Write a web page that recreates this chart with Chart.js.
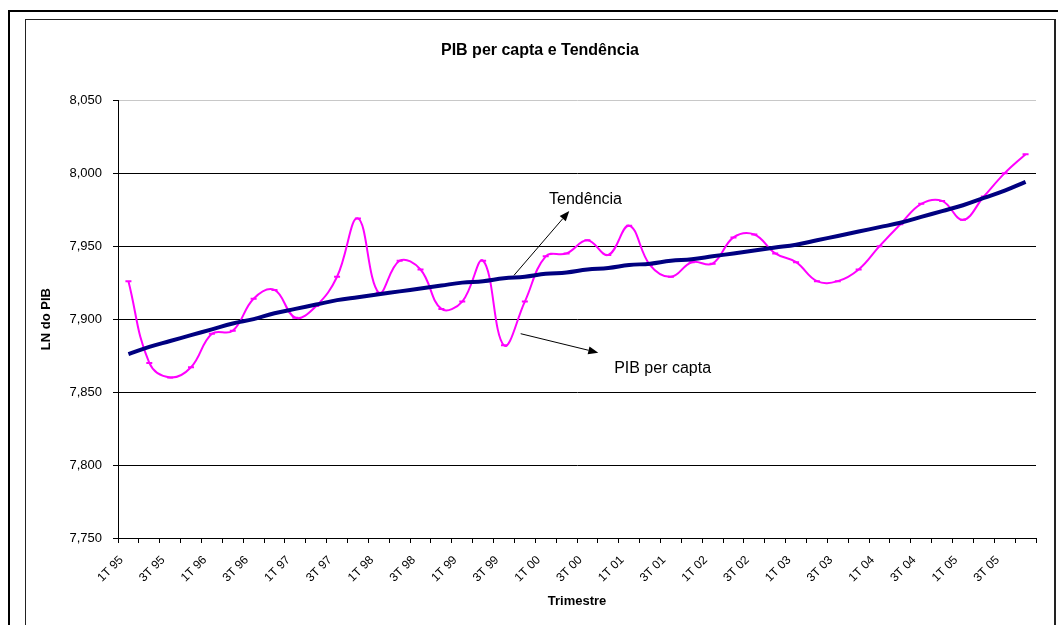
<!DOCTYPE html>
<html>
<head>
<meta charset="utf-8">
<title>PIB per capta e Tendência</title>
<script src="https://cdn.jsdelivr.net/npm/chart.js"></script>
<style>
  html, body { margin: 0; padding: 0; background: #fff; }
  canvas { display: block; }
</style>
</head>
<body>
<canvas id="pibChart" width="1058" height="625"></canvas>
<script>
// ============================================
// Dados (LN do PIB per capta, trimestral)
// ============================================

const trimestres = [
    '1T 95', '2T 95', '3T 95', '4T 95',
    '1T 96', '2T 96', '3T 96', '4T 96',
    '1T 97', '2T 97', '3T 97', '4T 97',
    '1T 98', '2T 98', '3T 98', '4T 98',
    '1T 99', '2T 99', '3T 99', '4T 99',
    '1T 00', '2T 00', '3T 00', '4T 00',
    '1T 01', '2T 01', '3T 01', '4T 01',
    '1T 02', '2T 02', '3T 02', '4T 02',
    '1T 03', '2T 03', '3T 03', '4T 03',
    '1T 04', '2T 04', '3T 04', '4T 04',
    '1T 05', '2T 05', '3T 05', '4T 05'
];

const pibPerCapta = [
    7.926, 7.870, 7.860, 7.867,
    7.890, 7.892, 7.914, 7.920,
    7.901, 7.909, 7.929, 7.969,
    7.918, 7.940, 7.934, 7.907,
    7.912, 7.940, 7.882, 7.912,
    7.943, 7.945, 7.954, 7.944,
    7.964, 7.937, 7.929, 7.939,
    7.938, 7.956, 7.958, 7.945,
    7.939, 7.926, 7.926, 7.934,
    7.950, 7.965, 7.979, 7.981,
    7.968, 7.984, 8.000, 8.013
];

const tendencia = [
    7.876, 7.881, 7.885, 7.889,
    7.893, 7.897, 7.900, 7.904,
    7.907, 7.910, 7.913, 7.915,
    7.917, 7.919, 7.921, 7.923,
    7.925, 7.926, 7.928, 7.929,
    7.931, 7.932, 7.934, 7.935,
    7.937, 7.938, 7.940, 7.941,
    7.943, 7.945, 7.947, 7.949,
    7.951, 7.954, 7.957, 7.960,
    7.963, 7.966, 7.970, 7.974,
    7.978, 7.983, 7.988, 7.994
];

// eixo Y
const yMin = 7.75;
const yMax = 8.05;
const yStep = 0.05;

// anotações: texto + seta, em coordenadas dos dados (índice do trimestre, valor)
const notas = [
    { texto: 'Tendência',     x: 20.16, y: 7.979, de: [18.48, 7.930], para: [21.13, 7.974] },
    { texto: 'PIB per capta', x: 23.28, y: 7.863, de: [18.80, 7.890], para: [22.52, 7.877] }
];

const FONTE = '"Liberation Sans", Arial, sans-serif';

// moldura da área do gráfico (estilo Excel)
const molduraPlugin = {
    id: 'moldura',
    beforeDraw(chart) {
        const ctx = chart.ctx;
        ctx.save();
        ctx.fillStyle = '#fff';
        ctx.fillRect(0, 0, chart.width, chart.height);
        ctx.strokeStyle = '#000';
        ctx.lineWidth = 2;
        ctx.strokeRect(9, 11, chart.width + 20, chart.height + 20);
        ctx.lineWidth = 1;
        ctx.strokeStyle = '#222';
        ctx.strokeRect(25.5, 19.5, 1029, chart.height + 20);
        ctx.lineWidth = 2;
        ctx.beginPath();
        ctx.moveTo(1055, 19);
        ctx.lineTo(1055, chart.height);
        ctx.stroke();
        ctx.restore();
    }
};

// setas e textos
const notasPlugin = {
    id: 'notas',
    afterDatasetsDraw(chart) {
        const ctx = chart.ctx;
        const sx = chart.scales.x;
        const sy = chart.scales.y;
        ctx.save();
        ctx.fillStyle = '#000';
        ctx.strokeStyle = '#000';
        ctx.lineWidth = 1;
        ctx.font = '16px ' + FONTE;
        ctx.textAlign = 'left';
        ctx.textBaseline = 'alphabetic';
        notas.forEach(n => {
            ctx.fillText(n.texto, sx.getPixelForValue(n.x), sy.getPixelForValue(n.y));

            const x1 = sx.getPixelForValue(n.de[0]);
            const y1 = sy.getPixelForValue(n.de[1]);
            const x2 = sx.getPixelForValue(n.para[0]);
            const y2 = sy.getPixelForValue(n.para[1]);
            const ang = Math.atan2(y2 - y1, x2 - x1);
            const len = 10;
            const larg = 4;
            const bx = x2 - len * Math.cos(ang);
            const by = y2 - len * Math.sin(ang);

            ctx.beginPath();
            ctx.moveTo(x1, y1);
            ctx.lineTo(bx, by);
            ctx.stroke();

            ctx.beginPath();
            ctx.moveTo(x2, y2);
            ctx.lineTo(bx + larg * Math.sin(ang), by - larg * Math.cos(ang));
            ctx.lineTo(bx - larg * Math.sin(ang), by + larg * Math.cos(ang));
            ctx.closePath();
            ctx.fill();
        });
        ctx.restore();
    }
};

const ctx = document.getElementById('pibChart');

new Chart(ctx, {
    type: 'line',
    data: {
        labels: trimestres,
        datasets: [
            {
                label: 'Tendência',
                data: tendencia,
                borderColor: '#000080',
                borderWidth: 4,
                pointRadius: 0,
                tension: 0.4,
                order: 0
            },
            {
                label: 'PIB per capta',
                data: pibPerCapta,
                borderColor: '#FF00FF',
                borderWidth: 2,
                pointStyle: 'line',
                pointRadius: 3,
                pointBorderWidth: 2,
                pointBorderColor: '#FF00FF',
                pointBackgroundColor: '#FF00FF',
                tension: 0.4,
                order: 1
            }
        ]
    },
    options: {
        responsive: false,
        animation: false,
        devicePixelRatio: 1,
        layout: {
            // left 44 so the title centres inside the frame
            padding: { left: 44, right: 22, top: 20, bottom: 0 }
        },
        plugins: {
            legend: { display: false },
            tooltip: { enabled: false },
            title: {
                display: true,
                text: 'PIB per capta e Tendência',
                color: '#000',
                font: { family: FONTE, size: 16, weight: 'bold' },
                padding: { top: 21, bottom: 40 }
            }
        },
        scales: {
            x: {
                offset: true,
                grid: {
                    offset: true,
                    drawOnChartArea: false,
                    drawTicks: true,
                    tickLength: 5,
                    color: '#000'
                },
                border: { color: '#000', width: 1 },
                ticks: {
                    autoSkip: false,
                    maxRotation: 45,
                    minRotation: 45,
                    padding: 10,
                    labelOffset: -7,
                    color: '#000',
                    font: { family: FONTE, size: 12 },
                    callback: function (v, i) {
                        return i % 2 === 0 ? this.getLabelForValue(v) : '';
                    }
                },
                title: {
                    display: true,
                    text: 'Trimestre',
                    color: '#000',
                    font: { family: FONTE, size: 13, weight: 'bold' },
                    padding: { top: 0, bottom: 16 }
                },
                afterFit(scale) { scale.height = 87; }
            },
            y: {
                min: yMin,
                max: yMax,
                grid: {
                    color: c => (c.tick && c.tick.value >= yMax - 1e-9 ? '#c8c8c8' : '#000'),
                    tickColor: '#000',
                    tickLength: 5,
                    lineWidth: 1
                },
                border: { color: '#000', width: 1 },
                ticks: {
                    stepSize: yStep,
                    padding: 11,
                    color: '#000',
                    font: { family: FONTE, size: 13 },
                    callback: v => v.toFixed(3).replace('.', ',')
                },
                title: {
                    display: true,
                    text: 'LN do PIB',
                    color: '#000',
                    font: { family: FONTE, size: 13, weight: 'bold' },
                    padding: { top: -5, bottom: 0 }
                },
                afterFit(scale) { scale.width = 74; }
            }
        }
    },
    plugins: [molduraPlugin, notasPlugin]
});
</script>
</body>
</html>
